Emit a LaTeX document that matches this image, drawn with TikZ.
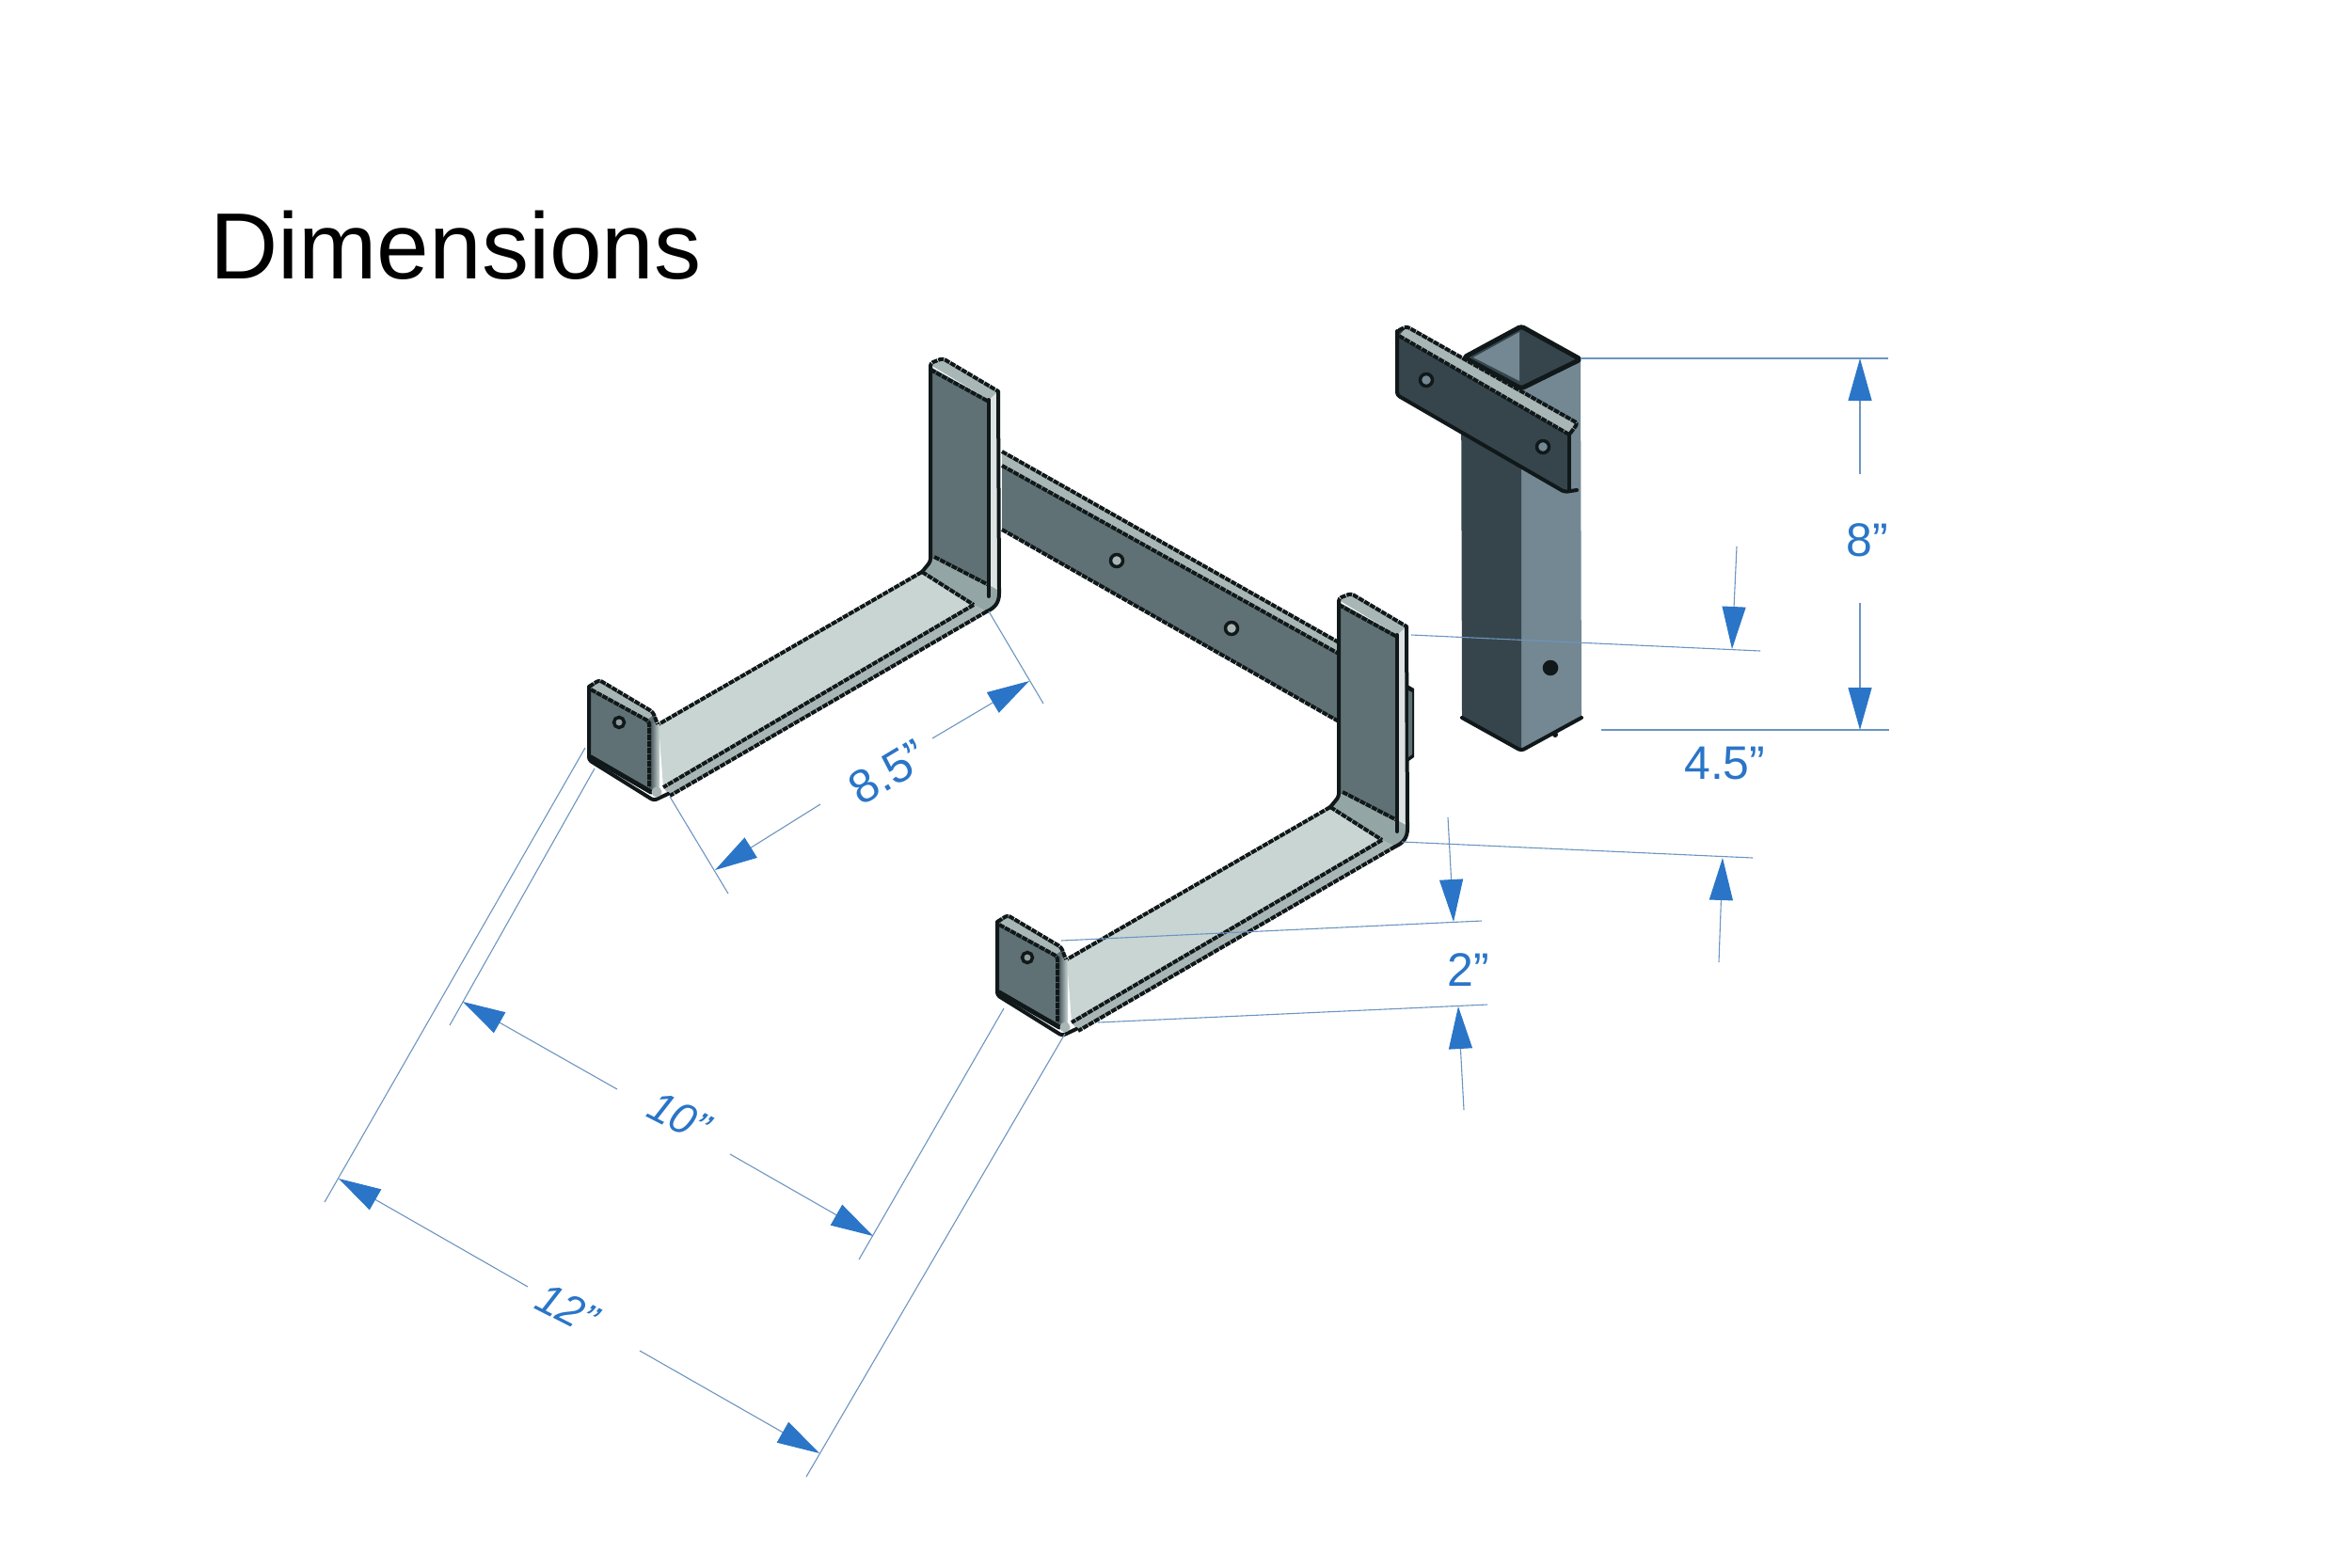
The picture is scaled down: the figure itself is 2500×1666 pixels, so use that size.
\documentclass[tikz,border=0pt]{standalone}
\usepackage{fontspec}
\setmainfont{Liberation Sans}
\usetikzlibrary{arrows.meta}
\definecolor{dimblue}{HTML}{2A75C7}
\definecolor{dimline}{HTML}{6C95BF}
\definecolor{platecol}{HTML}{5F7174}
\definecolor{floorcol}{HTML}{C9D5D3}
\definecolor{bendcol}{HTML}{93A5A4}
\definecolor{bandcol}{HTML}{A9B6B6}
\definecolor{postdark}{HTML}{36454C}
\definecolor{postlight}{HTML}{748893}
\definecolor{edgecol}{HTML}{10181A}

\begin{document}
\begin{tikzpicture}[x=1pt,y=-1pt,>={Triangle[length=45pt,width=25pt,color=dimblue]}]
			\tikzstyle{metaledge} = [draw=edgecol,line width=4pt,line join=round,rounded corners=3pt,dash pattern=on 6pt off 1pt];
			\tikzstyle{solidedge} = [draw=edgecol,line width=4pt,line join=round,line cap=round,rounded corners=3pt];
			\tikzstyle{hole} = [draw=edgecol,line width=3.5pt,fill=bandcol];
			\tikzstyle{extline} = [draw=dimline,line width=1.1pt];
			\tikzstyle{dimarrow} = [draw=dimline,line width=1.1pt,->];
			\tikzstyle{dimtext} = [text=dimblue,inner sep=0pt,font=\fontsize{50}{50}\selectfont];
			\tikzstyle{dimslant} = [dimtext,font=\fontsize{46}{46}\selectfont\itshape];
			\useasboundingbox (0,0) rectangle (2500,1666);
			\node[anchor=base west,inner sep=0pt,font=\fontsize{100}{100}\selectfont] (title) at (223,296) {Dimensions};

			\fill[platecol] (1065,480) -- (1423,683) -- (1423,767) -- (1065,563) -- cycle;
			\fill[bandcol] (1065,480) -- (1423,683) -- (1423,695) -- (1065,495) -- cycle;
			\draw[metaledge] (1065,480) -- (1423,683);
			\draw[metaledge] (1065,495) -- (1423,695);
			\draw[metaledge] (1065,563) -- (1423,767);
			\draw[hole] (1187,596) circle (6.5);
			\draw[hole] (1309,668) circle (6.5);

			\foreach \dx/\dy in {0/0,434/250}
			{
				\begin{scope}[shift={(\dx,\dy)}]
					\fill[platecol] (989,390) -- (1051,425) -- (1051,625) -- (989,597) -- cycle;
					\fill[bandcol] (989,388) -- (1002,381) -- (1062,416) -- (1051,425) -- cycle;
					\fill[bandcol!40] (1051,425) -- (1062,416) -- (1062,630) -- (1051,636) -- cycle;
					\fill[bendcol] (993,592) -- (1051,622) -- (1062,628) .. controls (1062,640) and (1058,646) .. (1049,650) -- (1035,643) -- (980,608) -- cycle;
					\fill[floorcol] (700,770) -- (980,608) -- (1035,643) -- (705,837) -- cycle;
					\fill[bandcol] (705,837) -- (1035,643) -- (1049,650) -- (712,846) -- cycle;
					\draw[solidedge] (989,390) -- (989,597) -- (980,608);
					\draw[metaledge] (989,392) -- (989,386) -- (1002,381) -- (1061,416);
					\draw[metaledge] (989,393) -- (1051,427);
					\draw[solidedge] (1051,425) -- (1051,634);
					\draw[solidedge] (1061,416) -- (1062,628) .. controls (1062,640) and (1058,646) .. (1049,650);
					\draw[metaledge] (993,592) -- (1051,622);
					\draw[metaledge] (980,608) -- (1035,643);
					\draw[metaledge] (980,608) -- (700,770);
					\draw[metaledge] (1035,643) -- (705,837);
					\draw[metaledge] (1049,650) -- (712,846);

					\fill[platecol] (626,730) -- (637,723) -- (697,760) -- (698,843) -- (690,843) -- (626,805) -- cycle;
					\shade[left color=postdark,right color=floorcol] (690,766) -- (701,770) -- (701,838) -- (690,838) -- cycle;
					\fill[bandcol] (628,732) -- (637,725) -- (695,760) -- (688,765) -- cycle;
					\draw[solidedge] (626,730) -- (626,808) -- (695,851) -- (710,844);
					\draw[solidedge,line width=5pt] (628,805) -- (692,842);
					\draw[metaledge] (626,730) -- (637,723) -- (694,757) -- (699,770);
					\draw[metaledge] (628,733) -- (690,767) -- (690,836);
					\fill[bandcol] (698,842) circle (5.5);
					\draw[hole,fill=platecol!70] (658,768) circle (5.5);
				\end{scope}
			}
			\fill[edgecol] (1496,728) -- (1503,732) -- (1503,805) -- (1496,810) -- cycle;
			\fill[platecol] (1497,734) -- (1501,736) -- (1501,802) -- (1497,805) -- cycle;

			\fill[postlight] (1617,413) -- (1680,382) -- (1681,763) -- (1617,798) -- cycle;
			\fill[postdark] (1553,380) -- (1617,413) -- (1617,798) -- (1554,763) -- cycle;
			\fill[postdark] (1556,380) -- (1617,347) -- (1680,382) -- (1617,413) -- cycle;
			\fill[postlight] (1566,380) -- (1615,353) -- (1615,405) -- cycle;
			\draw[solidedge,line width=5pt] (1556,380) -- (1617,347) -- (1680,382) -- (1617,413) -- cycle;
			\draw[solidedge] (1554,763) -- (1617,798) -- (1681,763);
			\draw[hole,fill=edgecol] (1648,710) circle (6.5);
			\fill[edgecol] (1653,781) circle (3);

			\fill[postdark] (1485,352) -- (1495,347) -- (1677,450) -- (1668,462) -- (1668,522) -- (1663,523) -- (1485,420) -- cycle;
			\fill[bandcol] (1487,357) -- (1495,348) -- (1677,450) -- (1668,462) -- cycle;
			\draw[metaledge] (1485,358) -- (1485,352) -- (1495,347) -- (1677,450) -- (1668,462);
			\draw[metaledge] (1487,357) -- (1668,462);
			\draw[solidedge] (1485,352) -- (1485,420) -- (1663,523) -- (1676,521);
			\draw[solidedge] (1668,462) -- (1668,520);
			\draw[hole,fill=postlight] (1516,404) circle (6.5);
			\draw[hole,fill=postlight] (1640,475) circle (6.5);

			\coordinate (exthigh) at (1680,381);
			\coordinate (exthighend) at (2007,381);
			\coordinate (extlow) at (1702,776);
			\coordinate (extlowend) at (2008,776);
			\coordinate (extplate) at (1500,675);
			\coordinate (extplateend) at (1871,692);
			\coordinate (extbend) at (1490,895);
			\coordinate (extbendend) at (1863,912);
			\coordinate (extfoot) at (1128,1000);
			\coordinate (extfootend) at (1575,979);
			\coordinate (extbase) at (1167,1087);
			\coordinate (extbaseend) at (1581,1068);
			\coordinate (extwa) at (1051,650);
			\coordinate (extwb) at (1109,748);
			\coordinate (extwc) at (712,847);
			\coordinate (extwd) at (774,950);
			\coordinate (extta) at (632,817);
			\coordinate (exttb) at (478,1090);
			\coordinate (exttc) at (1067,1072);
			\coordinate (exttd) at (913,1339);
			\coordinate (extda) at (622,795);
			\coordinate (extdb) at (345,1278);
			\coordinate (extdc) at (1132,1099);
			\coordinate (extdd) at (857,1570);
			\draw[extline] (exthigh) -- (exthighend);
			\draw[extline] (extlow) -- (extlowend);
			\draw[extline] (extplate) -- (extplateend);
			\draw[extline] (extbend) -- (extbendend);
			\draw[extline] (extfoot) -- (extfootend);
			\draw[extline] (extbase) -- (extbaseend);
			\draw[extline] (extwa) -- (extwb);
			\draw[extline] (extwc) -- (extwd);
			\draw[extline] (extta) -- (exttb);
			\draw[extline] (exttc) -- (exttd);
			\draw[extline] (extda) -- (extdb);
			\draw[extline] (extdc) -- (extdd);

			\node[dimtext,anchor=base west] (height) at (1962,591) {8”};
			\node[dimtext,anchor=base west] (depth) at (1790,828) {4.5”};
			\node[dimtext,anchor=base west] (flange) at (1538,1048) {2”};
			\node[dimtext,rotate=31] (width) at (944,821) {8.5”};
			\node[dimslant,rotate=-27] (inner) at (722,1187) {10”};
			\node[dimslant,rotate=-27] (outer) at (603,1391) {12”};

			\coordinate (ha) at (1977,504);
			\coordinate (hb) at (1977,381);
			\coordinate (hc) at (1977,641);
			\coordinate (hd) at (1977,776);
			\coordinate (da) at (1846,581);
			\coordinate (db) at (1841,690);
			\coordinate (dc) at (1827,1023);
			\coordinate (dd) at (1831,912);
			\coordinate (fa) at (1539,869);
			\coordinate (fb) at (1545,980);
			\coordinate (fc) at (1556,1180);
			\coordinate (fd) at (1550,1070);
			\coordinate (wa) at (991,785);
			\coordinate (wb) at (1094,724);
			\coordinate (wc) at (872,855);
			\coordinate (wd) at (760,925);
			\coordinate (ia) at (656,1158);
			\coordinate (ib) at (492,1065);
			\coordinate (ic) at (776,1227);
			\coordinate (id) at (928,1314);
			\coordinate (oa) at (561,1368);
			\coordinate (ob) at (360,1253);
			\coordinate (oc) at (680,1436);
			\coordinate (od) at (871,1545);
			\foreach \from/\to in {ha/hb,hc/hd,da/db,dc/dd,fa/fb,fc/fd,wa/wb,wc/wd,ia/ib,ic/id,oa/ob,oc/od}
				\draw[dimarrow] (\from) -- (\to);
		\end{tikzpicture}
\end{document}
